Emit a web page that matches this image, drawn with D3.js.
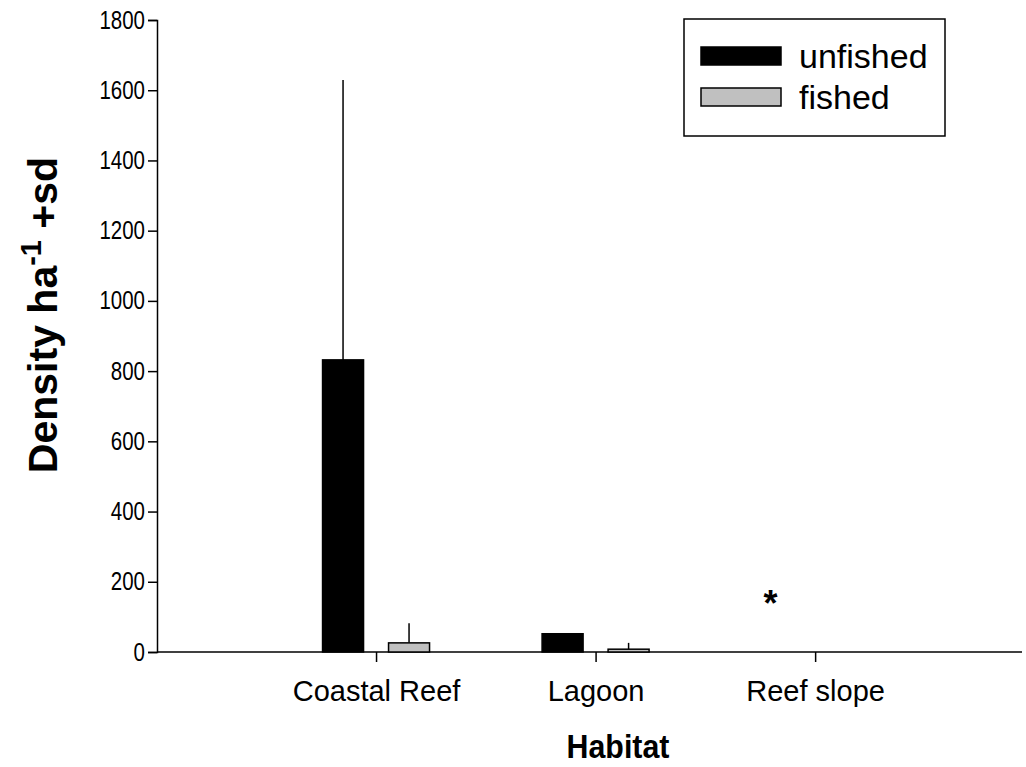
<!DOCTYPE html>
<html>
<head>
<meta charset="utf-8">
<script src="https://cdn.jsdelivr.net/npm/d3@7"></script>
<style>
  body { margin: 0; background: #fff; }
  text { font-family: Arial, "Liberation Sans", sans-serif; }
</style>
</head>
<body>
<svg id="chart" width="1026" height="767"></svg>
<script>
const habitats = ['Coastal Reef', 'Lagoon', 'Reef slope'];
const unfished = [832, 52, 0];
const unfishedSd = [797, 0, 0];
const fished = [26, 8, 0];
const fishedSd = [56, 18, 0];
const yTicks = [0, 200, 400, 600, 800, 1000, 1200, 1400, 1600, 1800];
const seriesNames = ['unfished', 'fished'];
const seriesFill = ['#000000', '#c0c0c0'];
const noteLabel = '*';
const noteValue = 160;

const svg = d3.select('#chart');
const plotLeft = 157, plotRight = 1022, plotTop = 20, plotBottom = 652;

const y = d3.scaleLinear().domain([0, 1800]).range([plotBottom, plotTop]);
const x = d3.scaleLinear().domain([-1, 2.94]).range([plotLeft, plotRight]);

const barW = 41;
const offsets = [-33.5, 32.5];

// y axis
const yAxis = svg.append('g')
    .attr('transform', `translate(${plotLeft},0)`)
    .call(d3.axisLeft(y).tickValues(yTicks).tickSize(9).tickFormat(d3.format('d')));
yAxis.select('.domain').attr('stroke-width', 1.5);
yAxis.selectAll('.tick line').attr('stroke-width', 1.5);
// tick labels in the reference are tall and narrow
yAxis.selectAll('.tick text')
    .attr('x', null)
    .attr('font-size', 25)
    .attr('fill', '#000')
    .attr('transform', 'translate(-12,0) scale(0.82,1)');

// x axis line
svg.append('line')
    .attr('x1', plotLeft).attr('x2', plotRight)
    .attr('y1', y(0)).attr('y2', y(0))
    .attr('stroke', '#000').attr('stroke-width', 1.5);

const xTicks = svg.append('g').selectAll('g')
    .data(habitats)
    .enter()
    .append('g')
    .attr('transform', (d, i) => `translate(${x(i)},${y(0)})`);
xTicks.append('line').attr('y2', 10).attr('stroke', '#000').attr('stroke-width', 1.5);
xTicks.append('text')
    .attr('y', 28).attr('dy', '0.71em')
    .attr('text-anchor', 'middle')
    .attr('font-size', 29)
    .text(d => d);

// bars + upward error bars
[[unfished, unfishedSd], [fished, fishedSd]].forEach(([vals, sds], s) => {
    const g = svg.append('g');
    vals.forEach((v, i) => {
        const cx = x(i) + offsets[s];
        if (sds[i] > 0)
            g.append('line')
                .attr('x1', cx).attr('x2', cx)
                .attr('y1', y(v)).attr('y2', y(v + sds[i]))
                .attr('stroke', '#000').attr('stroke-width', 1.5);
        g.append('rect')
            .attr('x', cx - barW / 2)
            .attr('y', y(v))
            .attr('width', barW)
            .attr('height', y(0) - y(v))
            .attr('fill', seriesFill[s])
            .attr('stroke', '#000')
            .attr('stroke-width', 1.5);
    });
});

// asterisk over reef slope
svg.append('text')
    .attr('x', x(2) - 45)
    .attr('y', y(noteValue))
    .attr('dy', '0.55em')
    .attr('text-anchor', 'middle')
    .attr('font-size', 36)
    .attr('font-weight', 'bold')
    .text(noteLabel);

// axis titles
svg.append('text')
    .attr('transform', 'translate(618,758) scale(0.92,1)')
    .attr('text-anchor', 'middle')
    .attr('font-size', 33)
    .attr('font-weight', 'bold')
    .text('Habitat');

const yTitle = svg.append('text')
    .attr('transform', 'translate(57,315) rotate(-90)')
    .attr('text-anchor', 'middle')
    .attr('font-size', 41)
    .attr('font-weight', 'bold');
yTitle.append('tspan').text('Density ha');
yTitle.append('tspan').attr('dy', -16).attr('font-size', 29).text('-1');
yTitle.append('tspan').attr('dy', 16).text(' +sd');

// legend
const legend = svg.append('g');
legend.append('rect')
    .attr('x', 684).attr('y', 19)
    .attr('width', 261).attr('height', 117)
    .attr('fill', 'none').attr('stroke', '#000').attr('stroke-width', 1.5);
seriesNames.forEach((name, s) => {
    const ly = 56 + s * 41;
    legend.append('rect')
        .attr('x', 701).attr('y', ly - 9)
        .attr('width', 80).attr('height', 18)
        .attr('fill', seriesFill[s]).attr('stroke', '#000').attr('stroke-width', 1.5);
    legend.append('text')
        .attr('x', 799).attr('y', ly)
        .attr('dy', '0.36em')
        .attr('font-size', 34)
        .text(name);
});
</script>
</body>
</html>
